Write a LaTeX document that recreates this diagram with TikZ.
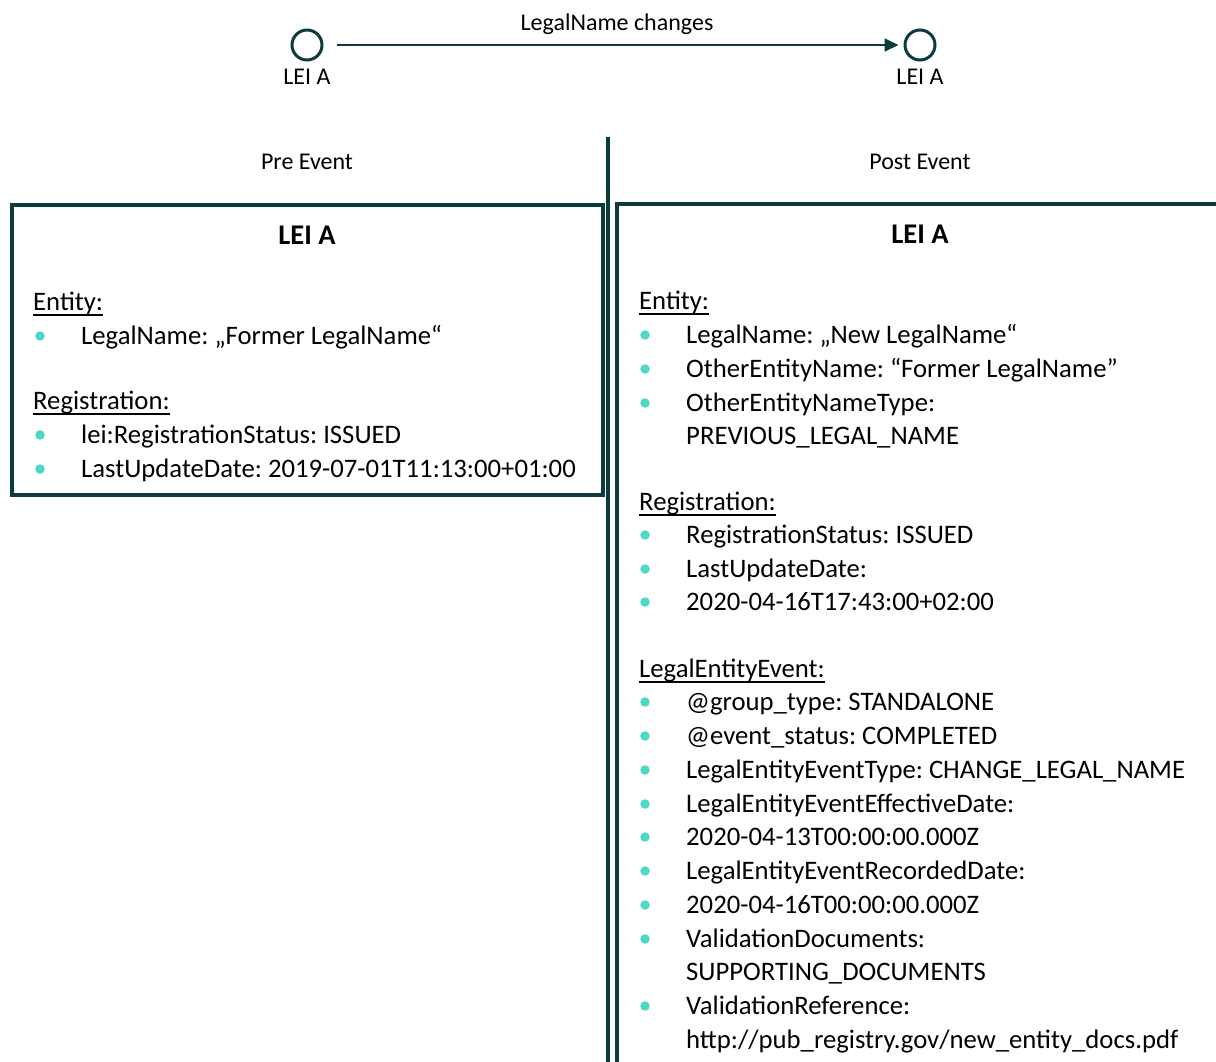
\documentclass[tikz,border=0pt]{standalone}
\usepackage{fontspec}
\setmainfont{Carlito}
\usetikzlibrary{positioning, arrows.meta}
\definecolor{gleifdark}{HTML}{0B3B3C}
\definecolor{gleifturq}{HTML}{4FD8C5}
\newsavebox{\ulbox}
\newcommand{\ulword}[1]{\sbox{\ulbox}{#1}\rlap{\rule[-5.5pt]{\wd\ulbox}{1.6pt}}\usebox{\ulbox}}
\frenchspacing

\begin{document}
\begin{tikzpicture}
    [
        x=1pt, y=-1pt,
        event_node/.style={circle, draw=gleifdark, line width=3pt, minimum size=30pt, inner sep=0pt},
        small_text/.style={font=\fontsize{24}{29}\selectfont, anchor=base, inner sep=0pt},
        body_text/.style={font=\fontsize{26.7}{32}\selectfont, anchor=base west, inner sep=0pt},
        title_text/.style={font=\fontsize{28.5}{34}\selectfont\bfseries, anchor=base, inner sep=0pt},
        bullet_dot/.style={circle, fill=gleifturq, minimum size=9.5pt, inner sep=0pt},
        box_line/.style={draw=gleifdark, line width=4pt},
    ]
        \useasboundingbox (0,0) rectangle (1216,1062) ;
        % timeline
        \node[event_node] (lei_pre) at (307,45) {} ;
        \node[event_node] (lei_post) at (920,45) {} ;
        \node[small_text] (lei_pre_lbl) at (307,85) {LEI A} ;
        \node[small_text] (lei_post_lbl) at (920,85) {LEI A} ;
        \node[small_text] (change_lbl) at (617,31) {LegalName changes} ;
        \draw[-{Triangle[length=14pt, width=13pt]}, line width=2pt, color=gleifdark, shorten <=13pt, shorten >=5pt] (lei_pre) -- (lei_post) ;
        % divider
        \coordinate (div_top) at (608,137) ;
        \coordinate (div_bot) at (608,1062) ;
        \draw[gleifdark, line width=3.5pt] (div_top) -- (div_bot) ;
        \node[small_text] (pre_lbl) at (307,169.5) {Pre Event} ;
        \node[small_text] (post_lbl) at (920,169.5) {Post Event} ;
        % pre event box
        \node[box_line, minimum width=591pt, minimum height=290pt, inner sep=0pt] (pre_box) at (307.5,350) {} ;
        \node[title_text] (pre_title) at (307,244) {LEI A} ;
        \node[body_text] (pre_entity) at (33,310.5) {\ulword{Entity:}} ;
        \node[body_text] (pre_name) at (81,344.5) {LegalName: „Former LegalName“} ;
        \node[body_text] (pre_reg) at (33,409.5) {\ulword{Registration:}} ;
        \node[body_text] (pre_status) at (81,443.5) {lei:RegistrationStatus: ISSUED} ;
        \node[body_text] (pre_date) at (81,477.5) {LastUpdateDate: 2019-07-01T11:13:00+01:00} ;
        \node[bullet_dot] (pre_b1) at (40,336) {} ;
        \node[bullet_dot] (pre_b2) at (40,435) {} ;
        \node[bullet_dot] (pre_b3) at (40,469) {} ;
        % post event box
        \coordinate (post_corner) at (1216,204) ;
        \coordinate (post_end) at (617,1062) ;
        \draw[box_line] (post_corner) -| (post_end) ;
        \node[title_text] (post_title) at (920,243) {LEI A} ;
        \node[body_text] (post_entity) at (639,309.5) {\ulword{Entity:}} ;
        \node[body_text] (post_name) at (686,343.5) {LegalName: „New LegalName“} ;
        \node[body_text] (post_other) at (686,377.5) {OtherEntityName: “Former LegalName”} ;
        \node[body_text] (post_type) at (686,411.5) {OtherEntityNameType:} ;
        \node[body_text] (post_type_val) at (686,444.5) {PREVIOUS\_LEGAL\_NAME} ;
        \node[body_text] (post_reg) at (639,510.5) {\ulword{Registration:}} ;
        \node[body_text] (post_status) at (686,543.5) {RegistrationStatus: ISSUED} ;
        \node[body_text] (post_date) at (686,577.5) {LastUpdateDate:} ;
        \node[body_text] (post_date_val) at (686,610.5) {2020-04-16T17:43:00+02:00} ;
        \node[body_text] (post_event) at (639,677.5) {\ulword{LegalEntityEvent:}} ;
        \node[body_text] (post_group) at (686,710.5) {@group\_type: STANDALONE} ;
        \node[body_text] (post_estatus) at (686,744.5) {@event\_status: COMPLETED} ;
        \node[body_text] (post_etype) at (686,778.5) {LegalEntityEventType: CHANGE\_LEGAL\_NAME} ;
        \node[body_text] (post_eff) at (686,812.5) {LegalEntityEventEffectiveDate:} ;
        \node[body_text] (post_eff_val) at (686,845.5) {2020-04-13T00:00:00.000Z} ;
        \node[body_text] (post_rec) at (686,879.5) {LegalEntityEventRecordedDate:} ;
        \node[body_text] (post_rec_val) at (686,913.5) {2020-04-16T00:00:00.000Z} ;
        \node[body_text] (post_vdoc) at (686,947.5) {ValidationDocuments:} ;
        \node[body_text] (post_vdoc_val) at (686,980.5) {SUPPORTING\_DOCUMENTS} ;
        \node[body_text] (post_vref) at (686,1014.5) {ValidationReference:} ;
        \node[body_text] (post_vref_val) at (686,1048.5) {http://pub\_registry.gov/new\_entity\_docs.pdf} ;
        \node[bullet_dot] (post_b1) at (645,335) {} ;
        \node[bullet_dot] (post_b2) at (645,369) {} ;
        \node[bullet_dot] (post_b3) at (645,403) {} ;
        \node[bullet_dot] (post_b4) at (645,535) {} ;
        \node[bullet_dot] (post_b5) at (645,569) {} ;
        \node[bullet_dot] (post_b6) at (645,602) {} ;
        \node[bullet_dot] (post_b7) at (645,702) {} ;
        \node[bullet_dot] (post_b8) at (645,736) {} ;
        \node[bullet_dot] (post_b9) at (645,770) {} ;
        \node[bullet_dot] (post_b10) at (645,804) {} ;
        \node[bullet_dot] (post_b11) at (645,837) {} ;
        \node[bullet_dot] (post_b12) at (645,871) {} ;
        \node[bullet_dot] (post_b13) at (645,905) {} ;
        \node[bullet_dot] (post_b14) at (645,939) {} ;
        \node[bullet_dot] (post_b15) at (645,1006) {} ;
    \end{tikzpicture}
\end{document}
